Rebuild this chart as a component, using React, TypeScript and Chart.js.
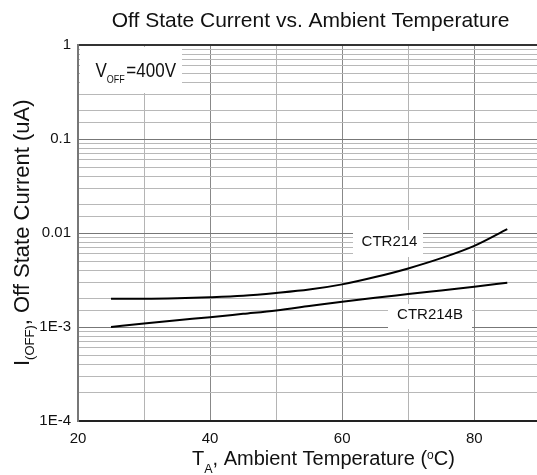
import React, { useEffect, useRef } from 'react';
import { Chart, registerables } from 'chart.js';

Chart.register(...registerables);

const FONT = "Arial, 'Liberation Sans', sans-serif";

const chartTitle = 'Off State Current vs. Ambient Temperature';
const temps = [25, 30, 35, 40, 45, 50, 55, 60, 65, 70, 75, 80, 85];
const ctr214 = [2.0e-3, 2.0e-3, 2.02e-3, 2.07e-3, 2.15e-3, 2.3e-3, 2.5e-3, 2.84e-3, 3.4e-3, 4.2e-3, 5.4e-3, 7.3e-3, 1.1e-2];
const ctr214b = [1.0e-3, 1.09e-3, 1.18e-3, 1.27e-3, 1.38e-3, 1.5e-3, 1.67e-3, 1.86e-3, 2.05e-3, 2.24e-3, 2.45e-3, 2.68e-3, 2.96e-3];
const xLabelledTicks = [20, 40, 60, 80];
const yMajorValues = [1e-4, 1e-3, 0.01, 0.1, 1];
const yMajorLabels = ['1E-4', '1E-3', '0.01', '0.1', '1'];

const isMajorLog = (v: number) => {
  const l = Math.log10(v);
  return Math.abs(l - Math.round(l)) < 1e-9;
};

const overlay = {
  id: 'overlay',
  beforeDatasetsDraw(chart: any) {
    const ctx = chart.ctx;
    ctx.save();
    ctx.fillStyle = '#ffffff';
    ctx.fillRect(80, 47, 102, 46);
    ctx.fillRect(353, 230, 70, 27);
    ctx.fillRect(388, 304, 84, 25);
    ctx.fillStyle = '#111';
    ctx.font = `15px ${FONT}`;
    ctx.textAlign = 'center';
    ctx.textBaseline = 'middle';
    const ds = chart.data.datasets;
    ctx.fillText(ds[0].label, 389.5, 242);
    ctx.fillText(ds[1].label, 430, 315);
    // V_OFF label
    ctx.save();
    ctx.translate(95.5, 76.7);
    ctx.scale(1, 1.2);
    ctx.textAlign = 'left';
    ctx.textBaseline = 'alphabetic';
    ctx.font = `17px ${FONT}`;
    ctx.fillText('V', 0, 0);
    let w = ctx.measureText('V').width;
    ctx.font = `9px ${FONT}`;
    ctx.fillText('OFF', w, 5.5);
    w += ctx.measureText('OFF').width + 1.5;
    ctx.font = `17px ${FONT}`;
    ctx.fillText('=400V', w, 0);
    ctx.restore();
    ctx.restore();
  },
  afterDraw(chart: any) {
    const ctx = chart.ctx;
    ctx.save();
    ctx.fillStyle = '#111';
    ctx.textBaseline = 'alphabetic';
    // Title
    ctx.font = `21px ${FONT}`;
    ctx.textAlign = 'center';
    ctx.fillText(chartTitle, 310.5, 27);
    // X axis title
    ctx.textAlign = 'left';
    const parts = (pieces: [string, number, number][], x0: number, y0: number) => {
      let x = x0;
      for (const [t, size, dy] of pieces) {
        ctx.font = `${size}px ${FONT}`;
        ctx.fillText(t, x, y0 + dy);
        x += ctx.measureText(t).width;
      }
    };
    parts([
      ['T', 20, 0],
      ['A', 12.5, 8],
      [', Ambient Temperature (', 20, 0],
      ['o', 12, -6.5],
      ['C)', 20, 0],
    ], 192, 465);
    // Y axis title
    ctx.save();
    ctx.translate(29, 366);
    ctx.rotate(-Math.PI / 2);
    parts([
      ['I', 22, 0],
      ['(OFF)', 13, 5],
      [', Off State Current (uA)', 22, 0],
    ], 0, 0);
    ctx.restore();
    ctx.restore();
  },
};

export default function App() {
  const ref = useRef<HTMLCanvasElement>(null);
  useEffect(() => {
    if (!ref.current) return;
    const chart = new Chart(ref.current, {
      type: 'line',
      data: {
        datasets: [
          {
            label: 'CTR214',
            data: temps.map((t, i) => ({ x: t, y: ctr214[i] })),
            borderColor: '#000',
            borderWidth: 2,
            pointRadius: 0,
            cubicInterpolationMode: 'monotone',
            fill: false,
          },
          {
            label: 'CTR214B',
            data: temps.map((t, i) => ({ x: t, y: ctr214b[i] })),
            borderColor: '#000',
            borderWidth: 2,
            pointRadius: 0,
            cubicInterpolationMode: 'monotone',
            fill: false,
          },
        ],
      },
      options: {
        responsive: false,
        animation: false,
        layout: { padding: { top: 45, left: 0, right: 0, bottom: 0 } },
        plugins: {
          legend: { display: false },
          title: { display: false },
          tooltip: { enabled: false },
        },
        scales: {
          x: {
            type: 'linear',
            min: 20,
            max: 89.5,
            afterFit: (s: any) => {
              s.height = 54;
              s.paddingRight = 0;
              s.paddingLeft = 0;
            },
            border: { display: true, color: '#222', width: 2 },
            grid: {
              drawTicks: false,
              color: (c: any) => {
                const v = c.tick?.value;
                if (v === undefined || Math.abs(v % 10) > 1e-9) return 'rgba(0,0,0,0)';
                return xLabelledTicks.includes(v) ? '#888' : '#b4b4b4';
              },
              lineWidth: 1,
            },
            ticks: {
              stepSize: 10,
              autoSkip: false,
              maxRotation: 0,
              padding: 9,
              color: '#111',
              font: { family: FONT, size: 15 },
              callback: (v: any) => (xLabelledTicks.includes(Number(v)) ? String(v) : ''),
            },
          },
          y: {
            type: 'logarithmic',
            min: 1e-4,
            max: 1,
            afterFit: (s: any) => {
              s.width = 78;
              s.paddingTop = 0;
              s.paddingBottom = 0;
            },
            border: { display: true, color: '#777', width: 2 },
            grid: {
              drawTicks: false,
              color: (c: any) => {
                const v = c.tick?.value;
                if (v === 1) return '#333';
                return isMajorLog(v) ? '#777' : '#b8b8b8';
              },
              lineWidth: (c: any) => (c.tick?.value === 1 ? 2 : 1),
            },
            ticks: {
              autoSkip: false,
              padding: 7,
              color: '#111',
              font: { family: FONT, size: 15 },
              callback: (v: any) => {
                const n = Number(v);
                const i = yMajorValues.findIndex((m) => Math.abs(Math.log10(m) - Math.log10(n)) < 1e-9);
                return i >= 0 ? yMajorLabels[i] : '';
              },
            },
          },
        },
      },
      plugins: [overlay],
    } as any);
    return () => chart.destroy();
  }, []);
  return (
    <div style={{ position: 'absolute', left: 0, top: 0, width: 537, height: 475, background: '#fff' }}>
      <canvas ref={ref} width={537} height={475} />
    </div>
  );
}
